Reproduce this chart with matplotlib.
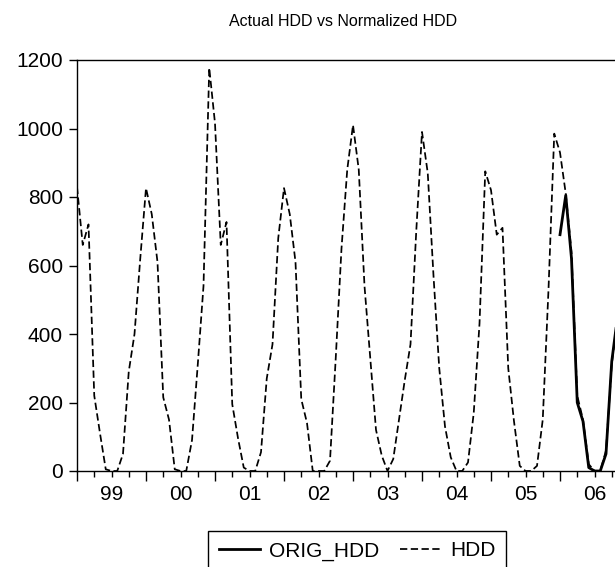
import numpy as np
import matplotlib
matplotlib.use("Agg")
import matplotlib.pyplot as plt
from matplotlib.ticker import FixedLocator, FuncFormatter

plt.rcParams['font.family'] = ['Liberation Sans', 'DejaVu Sans']

# monthly HDD, Jan 1999 onwards
hdd = [
    830, 660, 720, 220, 110, 5, 0, 0, 50, 290, 400, 620,      # 1999
    826, 750, 610, 215, 150, 5, 0, 0, 90, 310, 540, 1177,     # 2000
    1015, 660, 727, 195, 96, 10, 0, 0, 55, 270, 370, 680,     # 2001
    826, 750, 610, 210, 140, 0, 0, 0, 30, 330, 650, 880,      # 2002
    1010, 880, 540, 330, 120, 45, 0, 35, 150, 265, 370, 700,  # 2003
    990, 870, 570, 300, 130, 40, 0, 0, 25, 170, 430, 875,     # 2004
    820, 690, 710, 300, 145, 15, 0, 0, 15, 150, 530, 985,     # 2005
    930, 810, 640, 220, 150, 20, 0, 0, 60, 310, 450,          # 2006
]
# actual HDD, Jan 2006 onwards
orig_hdd = [690, 805, 620, 200, 145, 10, 0, 0, 50, 320, 450]
orig_start = 2006

year_labels = ['99', '00', '01', '02', '03', '04', '05', '06']
first_year = 1999

t_hdd = first_year + np.arange(len(hdd)) / 12
t_orig = orig_start + np.arange(len(orig_hdd)) / 12

fig = plt.figure(figsize=(6.15, 5.67), dpi=100)
ax = fig.add_axes([77 / 615, 1 - 471 / 567, 552 / 615, 411 / 567])

ax.plot(t_orig, orig_hdd, color='black', lw=2.0, label='ORIG_HDD')
ax.plot(t_hdd, hdd, color='black', lw=1.25, linestyle=(0, (4.2, 2.0)), label='HDD')

ax.set_ylim(0, 1200)
ax.set_xlim(first_year, first_year + len(year_labels))
ax.set_yticks(range(0, 1201, 200))

years = np.arange(first_year, first_year + len(year_labels) + 1)
quarters = [y + q for y in years[:-1] for q in (0.25, 0.5, 0.75)]
ax.xaxis.set_major_locator(FixedLocator(years))
ax.xaxis.set_minor_locator(FixedLocator(quarters))
ax.xaxis.set_major_formatter(FuncFormatter(lambda v, p: ''))


def mid_label(v, p):
    if abs(v - np.floor(v) - 0.5) < 1e-6:
        i = int(np.floor(v)) - first_year
        if 0 <= i < len(year_labels):
            return year_labels[i]
    return ''


ax.xaxis.set_minor_formatter(FuncFormatter(mid_label))
ax.tick_params(axis='x', which='major', direction='out', length=7.5, width=1, labelsize=15)
ax.tick_params(axis='x', which='minor', direction='out', length=4.3, width=1, pad=6, labelsize=15)
ax.tick_params(axis='y', direction='out', length=6, width=1, pad=4, labelsize=15)

for s in ax.spines.values():
    s.set_linewidth(1.0)

fig.text(343 / 615, 1 - 22 / 567, 'Actual HDD vs Normalized HDD', ha='center', va='center', fontsize=11.5)

leg = fig.legend(loc='upper center', bbox_to_anchor=(357 / 615, 1 - 531 / 567), ncol=2,
                 fontsize=15, frameon=True, fancybox=False, edgecolor='black', framealpha=1,
                 handlelength=2.0, handletextpad=0.4, columnspacing=1.0, borderpad=0.5,
                 borderaxespad=0)
leg.get_frame().set_linewidth(1.0)

fig.savefig('out.png', dpi=100)
